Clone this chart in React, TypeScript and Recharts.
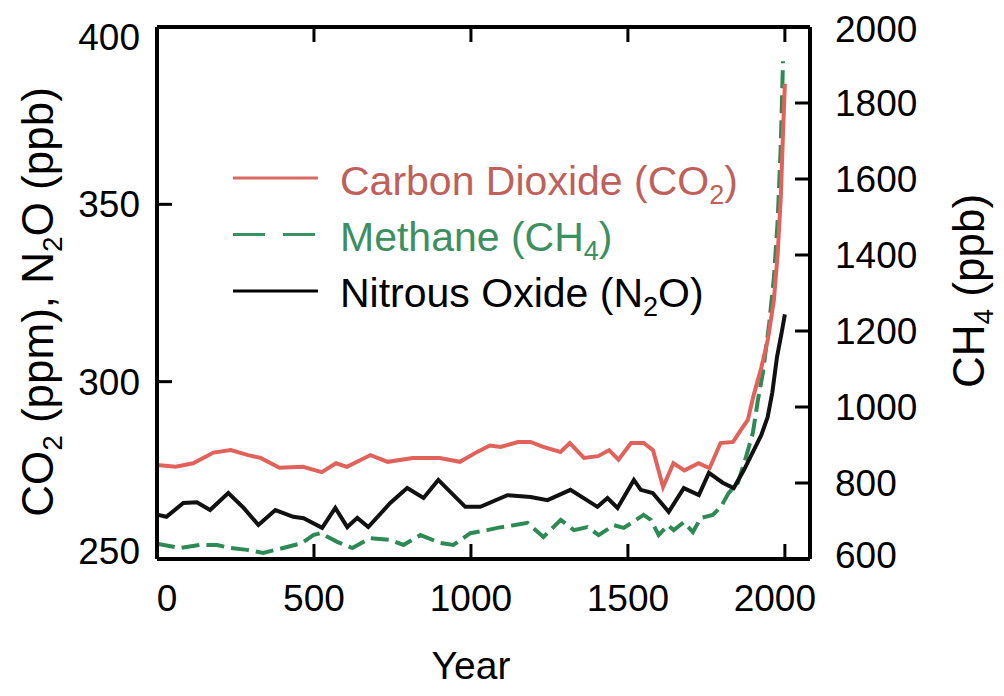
import React from 'react';
import { LineChart, Line, XAxis, YAxis, Legend } from 'recharts';

// years and concentrations
const co2Years = [0, 60, 115, 180, 235, 290, 330, 390, 465, 525, 570, 605, 680, 735, 815, 900, 965, 1020, 1060, 1095, 1150, 1190, 1230, 1285, 1315, 1360, 1405, 1440, 1470, 1510, 1550, 1580, 1612, 1645, 1680, 1725, 1760, 1795, 1835, 1860, 1882, 1900, 1925, 1946, 1965, 1977, 1987, 1994, 2000];
const co2Values = [276.5, 276, 277, 280, 280.7, 279.3, 278.5, 275.7, 276, 274.5, 277, 276, 279.3, 277.4, 278.5, 278.5, 277.4, 280.2, 282, 281.6, 283, 283, 281.6, 280.2, 282.7, 278.5, 279, 280.7, 278, 282.7, 282.7, 280.7, 270.3, 277, 275, 277, 275.6, 282.7, 283, 286.4, 289.2, 296, 304, 312, 323, 336, 352, 370, 384];

const n2oYears = [0, 30, 84, 127, 169, 227, 276, 323, 377, 434, 467, 526, 568, 606, 638, 673, 743, 797, 849, 896, 982, 1030, 1116, 1190, 1244, 1317, 1403, 1435, 1467, 1519, 1541, 1579, 1630, 1678, 1726, 1758, 1802, 1837, 1869, 1901, 1925, 1945, 1960, 1975, 1990, 2000];
const n2oValues = [262.5, 261.9, 265.8, 266, 263.8, 268.6, 264.4, 259.6, 263.8, 261.9, 261.5, 258.8, 264.4, 259, 261.6, 259, 265.8, 270, 267.2, 272.3, 264.7, 264.7, 268, 267.5, 266.6, 269.5, 264.7, 267.2, 264.4, 272.3, 269.5, 268.6, 263.3, 270, 268, 274.3, 271.5, 270, 275, 280.7, 285, 290, 297, 307, 314, 319];

const ch4Years = [0, 73, 137, 191, 233, 287, 338, 402, 462, 498, 520, 574, 622, 679, 743, 785, 839, 903, 944, 998, 1052, 1084, 1136, 1180, 1231, 1286, 1328, 1371, 1407, 1455, 1487, 1550, 1573, 1598, 1627, 1646, 1678, 1707, 1732, 1770, 1796, 1821, 1850, 1876, 1898, 1914, 1930, 1950, 1965, 1977, 1987, 1994];
const ch4Values = [640, 629, 637, 637, 629, 624, 616, 629, 642, 663, 668, 645, 629, 655, 650, 637, 663, 642, 637, 668, 676, 682, 689, 695, 658, 703, 676, 684, 663, 689, 682, 716, 703, 663, 689, 676, 697, 671, 708, 716, 737, 774, 800, 868, 932, 1018, 1090, 1220, 1340, 1490, 1690, 1910];

const yearTicks = [0, 500, 1000, 1500, 2000];
const leftTicks = [250, 300, 350, 400];
const rightTicks = [600, 800, 1000, 1200, 1400, 1600, 1800, 2000];

const co2Data = co2Years.map((year, i) => ({ year, co2: co2Values[i] }));
const n2oData = n2oYears.map((year, i) => ({ year, n2o: n2oValues[i] }));
const ch4Data = ch4Years.map((year, i) => ({ year, ch4: ch4Values[i] }));

const X_DOMAIN = [0, 2080];
const L_DOMAIN = [250, 400];
const R_DOMAIN = [600, 2000];

// chart box and plot area (svg coords), these also set the margins/axis sizes below
const W = 990;
const H = 680;
const TOP = 19;
const LEFT_W = 149;
const RIGHT_W = 188;
const BOTTOM_H = 129;
const PL = LEFT_W;
const PR = W - RIGHT_W;
const PT = TOP;
const PB = H - BOTTOM_H;

const RED = '#e0625a';
const GREEN = '#2d8a55';
const FONT = '"Liberation Sans", Arial, sans-serif';
const TICK_PX = 15;
const TICK_FONT = 37;

const legendRows = [
  { key: 'co2', name: 'Carbon Dioxide (CO', sub: '2', tail: ')', line: '#d86a64', text: '#c0605b', dash: undefined },
  { key: 'ch4', name: 'Methane (CH', sub: '4', tail: ')', line: '#3a9060', text: '#3d8f60', dash: '32 18' },
  { key: 'n2o', name: 'Nitrous Oxide (N', sub: '2', tail: 'O)', line: '#000', text: '#000', dash: undefined },
];

const sx = (v: number) => PL + ((v - X_DOMAIN[0]) / (X_DOMAIN[1] - X_DOMAIN[0])) * (PR - PL);
const syL = (v: number) => PB - ((v - L_DOMAIN[0]) / (L_DOMAIN[1] - L_DOMAIN[0])) * (PB - PT);
const syR = (v: number) => PB - ((v - R_DOMAIN[0]) / (R_DOMAIN[1] - R_DOMAIN[0])) * (PB - PT);

// overlay: legend plus the inward tick marks of the frame
const Overlay = () => (
  <svg width={W} height={H} style={{ position: 'absolute', left: 0, top: 0, fontFamily: FONT }}>
    {yearTicks.slice(1).map((v) => (
      <g key={`x${v}`}>
        <line x1={sx(v)} x2={sx(v)} y1={PB} y2={PB - TICK_PX} stroke="#000" strokeWidth={3} />
        <line x1={sx(v)} x2={sx(v)} y1={PT} y2={PT + TICK_PX} stroke="#000" strokeWidth={3} />
      </g>
    ))}
    {leftTicks.slice(1, -1).map((v) => (
      <line key={`l${v}`} x1={PL} x2={PL + TICK_PX} y1={syL(v)} y2={syL(v)} stroke="#000" strokeWidth={3} />
    ))}
    {rightTicks.slice(1, -1).map((v) => (
      <line key={`r${v}`} x1={PR} x2={PR - TICK_PX} y1={syR(v)} y2={syR(v)} stroke="#000" strokeWidth={3} />
    ))}
    {legendRows.map((r, i) => (
      <g key={r.key}>
        <line x1={225} x2={310} y1={170 + 56.5 * i} y2={170 + 56.5 * i} stroke={r.line} strokeWidth={3} strokeDasharray={r.dash} />
        <text x={332} y={187 + 56 * i} fontSize={41} fill={r.text}>
          {r.name}
          <tspan dy={9} fontSize={27}>{r.sub}</tspan>
          <tspan dy={-9}>{r.tail}</tspan>
        </text>
      </g>
    ))}
  </svg>
);

const LeftTitle = () => (
  <text x={45} y={294} transform="rotate(-90 45 294)" textAnchor="middle" fontSize={44} fill="#000">
    CO<tspan dy={9} fontSize={28}>2</tspan><tspan dy={-9}> (ppm), N</tspan><tspan dy={9} fontSize={28}>2</tspan><tspan dy={-9}>O (ppb)</tspan>
  </text>
);

const RightTitle = () => (
  <text x={976} y={283} transform="rotate(-90 976 283)" textAnchor="middle" fontSize={44} fill="#000">
    CH<tspan dy={9} fontSize={28}>4</tspan><tspan dy={-9}> (ppb)</tspan>
  </text>
);

const YearTitle = () => (
  <text x={463} y={657} textAnchor="middle" dominantBaseline="central" fontSize={39} fill="#000">
    Year
  </text>
);

const BottomTick = (props: any) => {
  const { x, y, payload } = props;
  const v = payload.value;
  const shift = v === 0 ? 10 : v === 2000 ? -10 : 0;
  return (
    <text x={Number(x) + shift} y={y} dy="0.71em" textAnchor="middle" fontSize={TICK_FONT} fill="#000">{v}</text>
  );
};

const LeftTick = (props: any) => {
  const { x, y, payload } = props;
  const v = payload.value;
  const shift = v === 400 ? 10 : v === 250 ? -8 : 0;
  return (
    <text x={x} y={Number(y) + shift} dy="0.355em" textAnchor="end" fontSize={TICK_FONT} fill="#000">{v}</text>
  );
};

const RightTick = (props: any) => {
  const { x, y, payload } = props;
  const v = payload.value;
  const shift = v === 600 ? -4 : v === 2000 ? 2 : 0;
  return (
    <text x={x} y={Number(y) + shift} dy="0.355em" textAnchor="start" fontSize={TICK_FONT} fill="#000">{v}</text>
  );
};

const axisLine = { stroke: '#000', strokeWidth: 4 };

export default function App() {
  return (
    <div style={{ width: W, height: H, fontFamily: FONT, background: '#fff' }}>
      <LineChart width={W} height={H} margin={{ top: TOP - 1, right: 0, bottom: 0, left: 0 }}>
        <XAxis
          xAxisId="b"
          type="number"
          dataKey="year"
          domain={X_DOMAIN}
          ticks={yearTicks}
          interval={0}
          height={BOTTOM_H}
          axisLine={axisLine}
          tickLine={false}
          tickSize={0}
          tickMargin={26}
          tick={BottomTick}
          label={YearTitle}
        />
        <XAxis
          xAxisId="t"
          orientation="top"
          type="number"
          dataKey="year"
          domain={X_DOMAIN}
          height={1}
          axisLine={axisLine}
          tickLine={false}
          tick={false}
        />
        <YAxis
          yAxisId="l"
          type="number"
          domain={L_DOMAIN}
          ticks={leftTicks}
          interval={0}
          width={LEFT_W}
          axisLine={axisLine}
          tickLine={false}
          tickSize={0}
          tickMargin={17}
          tick={LeftTick}
          label={LeftTitle}
        />
        <YAxis
          yAxisId="r"
          orientation="right"
          type="number"
          domain={R_DOMAIN}
          ticks={rightTicks}
          interval={0}
          width={RIGHT_W}
          axisLine={axisLine}
          tickLine={false}
          tickSize={0}
          tickMargin={25}
          tick={RightTick}
          label={RightTitle}
        />
        <Legend
          layout="vertical"
          align="center"
          verticalAlign="middle"
          content={Overlay}
          wrapperStyle={{ left: 0, top: 0, width: W, height: H, pointerEvents: 'none' }}
        />
        <Line xAxisId="b" yAxisId="r" data={ch4Data} dataKey="ch4" type="linear" stroke={GREEN} strokeWidth={4} strokeDasharray="18 7" dot={false} isAnimationActive={false} />
        <Line xAxisId="b" yAxisId="l" data={n2oData} dataKey="n2o" type="linear" stroke="#111" strokeWidth={4} dot={false} isAnimationActive={false} />
        <Line xAxisId="b" yAxisId="l" data={co2Data} dataKey="co2" type="linear" stroke={RED} strokeWidth={4} dot={false} isAnimationActive={false} />
      </LineChart>
    </div>
  );
}
